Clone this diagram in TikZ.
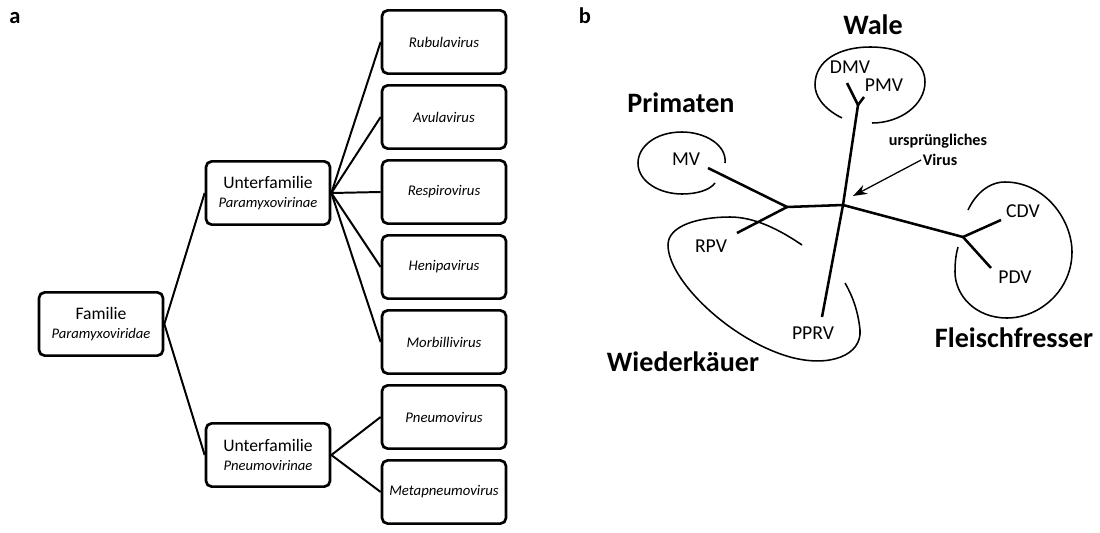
\documentclass[tikz,border=0pt]{standalone}
\usepackage{fontspec}
\setmainfont{Carlito}
\usetikzlibrary{positioning,arrows.meta}

\begin{document}
\begin{tikzpicture}[x=0.025cm, y=-0.025cm,
  box/.style={draw, line width=1.9pt, rounded corners=4pt, minimum width=3.1cm, minimum height=1.58cm, align=center, inner sep=1pt, font=\fontsize{12.5}{14}\selectfont},
  leaf/.style={box, font=\fontsize{10.5}{12}\selectfont\itshape},
  edge/.style={line width=1.4pt},
  branch/.style={line width=1.8pt},
  ring/.style={line width=1.1pt},
  taxon/.style={font=\fontsize{14}{16}\selectfont, inner sep=1pt},
  host/.style={font=\fontsize{20}{22}\selectfont\bfseries, inner sep=1pt},
  panel/.style={font=\fontsize{16}{18}\selectfont\bfseries, inner sep=1pt}]
  \useasboundingbox (0,0) rectangle (1100,533);

  % Left panel: taxonomy of the family
  \node[panel] (labela) at (15,18) {a};
  \node[box] (familie) at (101,324) {Familie\\{\fontsize{10.4}{12}\selectfont\itshape Paramyxoviridae}};
  \node[box] (paramyxo) at (268,193) {Unterfamilie\\{\fontsize{10.4}{12}\selectfont\itshape Paramyxovirinae}};
  \node[box] (pneumo) at (268,455) {Unterfamilie\\{\fontsize{10.4}{12}\selectfont\itshape Pneumovirinae}};

  \node[leaf] (rubula) at (444,42) {Rubulavirus};
  \node[leaf] (avula) at (444,117) {Avulavirus};
  \node[leaf] (respiro) at (444,192) {Respirovirus};
  \node[leaf] (henipa) at (444,267) {Henipavirus};
  \node[leaf] (morbilli) at (444,342) {Morbillivirus};
  \node[leaf] (pneumov) at (444,417) {Pneumovirus};
  \node[leaf] (metapneumo) at (444,492) {Metapneumovirus};

  \draw[edge] (familie.east) -- (paramyxo.west);
  \draw[edge] (familie.east) -- (pneumo.west);
  \draw[edge] (paramyxo.east) -- (rubula.west);
  \draw[edge] (paramyxo.east) -- (avula.west);
  \draw[edge] (paramyxo.east) -- (respiro.west);
  \draw[edge] (paramyxo.east) -- (henipa.west);
  \draw[edge] (paramyxo.east) -- (morbilli.west);
  \draw[edge] (pneumo.east) -- (pneumov.west);
  \draw[edge] (pneumo.east) -- (metapneumo.west);

  % Right panel: unrooted tree with host groups
  \node[panel] (labelb) at (585,16) {b};

  \coordinate (root) at (843,205);
  \coordinate (primfork) at (787,207);
  \coordinate (walefork) at (858,105);
  \coordinate (fleischfork) at (963,237);
  \coordinate (dmvend) at (847,83);
  \coordinate (pmvend) at (864,97);
  \coordinate (mvend) at (708,168);
  \coordinate (rpvend) at (737,233);
  \coordinate (pprvend) at (822,317);
  \coordinate (cdvend) at (1001,220);
  \coordinate (pdvend) at (991,268);

  \draw[branch] (root) -- (walefork);
  \draw[branch] (walefork) -- (dmvend);
  \draw[branch] (walefork) -- (pmvend);
  \draw[branch] (root) -- (primfork);
  \draw[branch] (primfork) -- (mvend);
  \draw[branch] (primfork) -- (rpvend);
  \draw[branch] (root) -- (pprvend);
  \draw[branch] (root) -- (fleischfork);
  \draw[branch] (fleischfork) -- (cdvend);
  \draw[branch] (fleischfork) -- (pdvend);

  % host rings
  \draw[ring] (842,118) .. controls (822,108) and (815,95) .. (815,85)
    .. controls (815,60) and (840,47) .. (870,47)
    .. controls (905,47) and (925,62) .. (925,82)
    .. controls (925,105) and (900,123) .. (872,123);
  \draw[ring] (725,163) .. controls (727,145) and (705,132) .. (682,132)
    .. controls (655,132) and (638,147) .. (638,163)
    .. controls (638,182) and (660,194) .. (682,194)
    .. controls (697,194) and (710,190) .. (715,183);
  \draw[ring] (802,245) .. controls (780,230) and (755,217) .. (730,217)
    .. controls (700,217) and (668,225) .. (668,245)
    .. controls (668,280) and (730,340) .. (790,357)
    .. controls (830,368) and (862,355) .. (860,330)
    .. controls (858,310) and (852,295) .. (845,283);
  \draw[ring] (968,210) .. controls (975,195) and (988,182) .. (1005,182)
    .. controls (1045,182) and (1072,220) .. (1072,252)
    .. controls (1072,290) and (1040,318) .. (1007,318)
    .. controls (975,318) and (955,295) .. (955,272)
    .. controls (955,262) and (956,254) .. (958,247);

  \node[taxon] (dmv) at (850,67) {DMV};
  \node[taxon] (pmv) at (884,85) {PMV};
  \node[taxon] (mv) at (686,159) {MV};
  \node[taxon] (rpv) at (711,246) {RPV};
  \node[taxon] (pprv) at (813,333) {PPRV};
  \node[taxon] (cdv) at (1023,211) {CDV};
  \node[taxon] (pdv) at (1015,277) {PDV};

  \node[host] (wale) at (873,25) {Wale};
  \node[host] (primaten) at (681,103) {Primaten};
  \node[host] (wiederk) at (683,362) {Wiederkäuer};
  \node[host] (fleisch) at (1014,338) {Fleischfresser};

  \node[font=\fontsize{11.5}{13}\selectfont\bfseries, inner sep=1pt] (urspr) at (938,141) {ursprüngliches};
  \node[font=\fontsize{11.5}{13}\selectfont\bfseries, inner sep=1pt] (virus) at (940,160) {Virus};
  \coordinate (arrowtip) at (853,196);
  \draw[line width=0.9pt, -{Stealth[length=10pt, width=7pt]}] (virus.west) -- (arrowtip);
\end{tikzpicture}
\end{document}
